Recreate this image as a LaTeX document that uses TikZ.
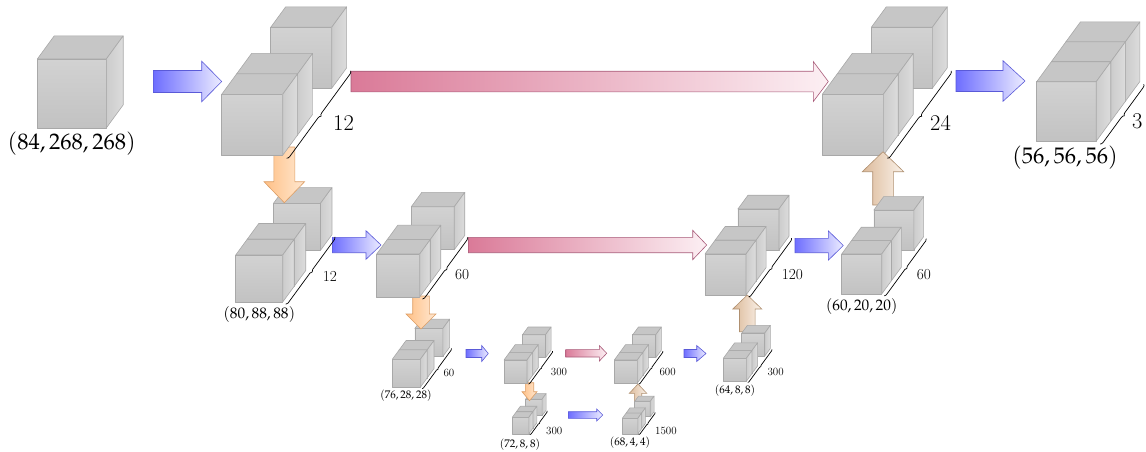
\documentclass[tikz,border=0pt]{standalone}
\usepackage{mathpazo}
\usetikzlibrary{decorations.pathreplacing}
\definecolor{cfrontT}{HTML}{D2D2D2}
\definecolor{cfrontB}{HTML}{C2C2C2}
\definecolor{ctop}{HTML}{C6C6C6}
\definecolor{csideL}{HTML}{CCCCCC}
\definecolor{csideR}{HTML}{DCDCDC}
\definecolor{cedge}{HTML}{A8A8A8}
\definecolor{blueL}{HTML}{6E6EFF}
\definecolor{blueR}{HTML}{ECECFF}
\definecolor{blueD}{HTML}{5A5AD8}
\definecolor{pinkL}{HTML}{DA7A98}
\definecolor{pinkR}{HTML}{FCEFF3}
\definecolor{pinkD}{HTML}{A85A78}
\definecolor{oraL}{HTML}{FFC086}
\definecolor{oraR}{HTML}{FFE8D2}
\definecolor{oraD}{HTML}{DC9E66}
\definecolor{tanL}{HTML}{DCBA9A}
\definecolor{tanR}{HTML}{FAF2EA}
\definecolor{tanD}{HTML}{B09070}
\newcommand\fbig{\fontsize{22.5}{26}\selectfont}
\newcommand\fmid{\fontsize{15.3}{18}\selectfont}
\newcommand\fsml{\fontsize{11}{13}\selectfont}
\newcommand\onecube[3]{%
  \pgfmathsetmacro\qx{#1}\pgfmathsetmacro\qy{#2}\pgfmathsetmacro\qs{#3}%
  \pgfmathsetmacro\qdx{0.245*\qs}\pgfmathsetmacro\qdy{-0.335*\qs}%
  \pgfmathsetmacro\qxr{\qx+\qs}\pgfmathsetmacro\qyb{\qy+\qs}%
  \pgfmathsetmacro\qxa{\qx+\qdx}\pgfmathsetmacro\qya{\qy+\qdy}%
  \pgfmathsetmacro\qxra{\qxr+\qdx}\pgfmathsetmacro\qyba{\qyb+\qdy}%
  \shadedraw[cubeface,top color=cfrontT,bottom color=cfrontB] (\qx,\qy) rectangle (\qxr,\qyb);
  \filldraw[cubeface,fill=ctop] (\qx,\qy) -- (\qxr,\qy) -- (\qxra,\qya) -- (\qxa,\qya) -- cycle;
  \shadedraw[cubeface,left color=csideL,right color=csideR] (\qxr,\qy) -- (\qxra,\qya) -- (\qxra,\qyba) -- (\qxr,\qyb) -- cycle;}
\newcommand\gapblock[3]{%
  \onecube{#1+3.28*0.245*#3}{#2-3.28*0.335*#3}{#3}%
  \onecube{#1+0.245*#3}{#2-0.335*#3}{#3}%
  \onecube{#1}{#2}{#3}}
\newcommand\runblock[3]{%
  \onecube{#1+2*0.245*#3}{#2-2*0.335*#3}{#3}%
  \onecube{#1+0.245*#3}{#2-0.335*#3}{#3}%
  \onecube{#1}{#2}{#3}}
\newcommand\dimbrace[4]{%
  \pgfmathsetmacro\bx{#1+#3+0.065*#3}\pgfmathsetmacro\by{#2+#3+0.047*#3}%
  \pgfmathsetmacro\ex{\bx+#4*0.245*#3}\pgfmathsetmacro\ey{\by-#4*0.335*#3}%
  \pgfmathsetmacro\am{max(0.05*#3,1.2)}%
  \draw[brc,decoration={brace,mirror,amplitude=\am pt}] (\bx,\by) -- (\ex,\ey);}
\newcommand\harrow[7]{%
  \shadedraw[#1] (#2,{#4-#5}) -- (#7,{#4-#5}) -- (#7,{#4-#6}) -- (#3,#4) -- (#7,{#4+#6}) -- (#7,{#4+#5}) -- (#2,{#4+#5}) -- cycle;}
\newcommand\varrow[7]{%
  \shadedraw[#1] ({#2-#5},#3) -- ({#2-#5},#7) -- ({#2-#6},#7) -- (#2,#4) -- ({#2+#6},#7) -- ({#2+#5},#7) -- ({#2+#5},#3) -- cycle;}
\begin{document}
\begin{tikzpicture}[x=1pt,y=-1pt,
  cubeface/.style={draw=cedge,line width=0.6pt,line join=round},
  brc/.style={decorate,draw=black,line width=0.7pt},
  blueA/.style={left color=blueL,right color=blueR,draw=blueD,line width=0.6pt},
  pinkA/.style={left color=pinkL,right color=pinkR,draw=pinkD,line width=0.6pt},
  oraA/.style={left color=oraL,right color=oraR,draw=oraD,line width=0.6pt},
  tanA/.style={left color=tanL,right color=tanR,draw=tanD,line width=0.6pt},
  lab/.style={inner sep=0pt,anchor=west},
  clab/.style={inner sep=0pt}]
\useasboundingbox (0,0) rectangle (1146,451);
% input
\onecube{37.3}{59}{69}
% encoder level 1 / 2
\gapblock{235.7}{255}{47}
\varrow{oraA}{284.3}{147}{202.7}{10.5}{20.3}{181.7}
\gapblock{221.7}{94.3}{61}
\gapblock{392.3}{359.3}{28}
\varrow{oraA}{421}{296}{329}{8.3}{15}{314}
\gapblock{376.7}{254}{43}
\gapblock{512.3}{417.3}{16.5}
\varrow{oraA}{529.5}{382.7}{400.7}{4.2}{7.5}{391.7}
\gapblock{504}{360}{23}
% decoder
\gapblock{822.3}{94.3}{61}
\varrow{tanA}{883}{205}{151.7}{10.3}{20.7}{171.7}
\gapblock{841.7}{254}{40}
\gapblock{705}{254}{41}
\varrow{tanA}{747.3}{331.7}{295}{7.8}{14.5}{309}
\gapblock{723.3}{358.3}{23}
\gapblock{614.3}{360}{23}
\varrow{tanA}{638}{408.3}{384}{3.7}{8.7}{393.3}
\gapblock{622.3}{418.3}{15.5}
% output
\runblock{1036.7}{81.7}{59.5}
% horizontal arrows
\harrow{blueA}{153.3}{221.7}{81.5}{11}{20.3}{201.7}
\harrow{blueA}{956}{1025}{81}{10.5}{20.3}{1003}
\harrow{blueA}{332.3}{381}{245}{7.7}{14.3}{366}
\harrow{blueA}{795}{843.3}{245.5}{7.2}{14.7}{828.3}
\harrow{blueA}{466}{488.3}{353.5}{4}{8}{481.7}
\harrow{blueA}{684}{706}{353.5}{4}{8}{696.7}
\harrow{blueA}{568.3}{602.7}{415}{3.3}{6}{596.7}
\harrow{pinkA}{351}{828.3}{81.5}{10.3}{20}{813.3}
\harrow{pinkA}{468.3}{706.7}{245}{7.7}{14.7}{692.7}
\harrow{pinkA}{565.7}{606.7}{353.3}{3.7}{7.8}{599.3}
% braces
\dimbrace{221.7}{94.3}{61}{4.28}
\dimbrace{822.3}{94.3}{61}{4.28}
\dimbrace{1036.7}{81.7}{59.5}{3}
\dimbrace{235.7}{255}{47}{4.28}
\dimbrace{376.7}{254}{43}{4.28}
\dimbrace{705}{254}{41}{4.28}
\dimbrace{841.7}{254}{40}{4.28}
\dimbrace{392.3}{359.3}{28}{4.28}
\dimbrace{504}{360}{23}{4.28}
\dimbrace{512.3}{417.3}{16.5}{4.28}
\dimbrace{614.3}{360}{23}{4.28}
\dimbrace{622.3}{418.3}{15.5}{4.28}
\dimbrace{723.3}{358.3}{23}{4.28}
% channel labels
\node[lab,font=\fbig] (cA) at (333,123) {12};
\node[lab,font=\fbig] (cB) at (930,123) {24};
\node[lab,font=\fbig] (cO) at (1132,121) {3};
\node[lab,font=\fmid] (cC) at (322.7,276.7) {12};
\node[lab,font=\fmid] (cD) at (455,275) {60};
\node[lab,font=\fmid] (cE) at (781.7,274.3) {120};
\node[lab,font=\fmid] (cF) at (916.7,274.3) {60};
\node[lab,font=\fsml] (cG) at (443.3,372.7) {60};
\node[lab,font=\fsml] (cH) at (550.7,371.7) {300};
\node[lab,font=\fsml] (cI) at (546,430.7) {300};
\node[lab,font=\fsml] (cJ) at (659.3,371.7) {600};
\node[lab,font=\fsml] (cK) at (655,430.7) {1500};
\node[lab,font=\fsml] (cL) at (767.3,371.7) {300};
% size labels
\node[clab,font=\fbig] (sIn) at (71.7,144) {$(84, 268, 268)$};
\node[clab,font=\fbig] (sOut) at (1065,157.5) {$(56, 56, 56)$};
\node[clab,font=\fmid] (sC) at (259.3,315) {$(80, 88, 88)$};
\node[clab,font=\fmid] (sF) at (861.7,306.3) {$(60, 20, 20)$};
\node[clab,font=\fsml] (sG) at (406,396) {$(76, 28, 28)$};
\node[clab,font=\fsml] (sI) at (520,445) {$(72, 8, 8)$};
\node[clab,font=\fsml] (sK) at (630,442.5) {$(68, 4, 4)$};
\node[clab,font=\fsml] (sL) at (735,390.5) {$(64, 8, 8)$};
\end{tikzpicture}
\end{document}
